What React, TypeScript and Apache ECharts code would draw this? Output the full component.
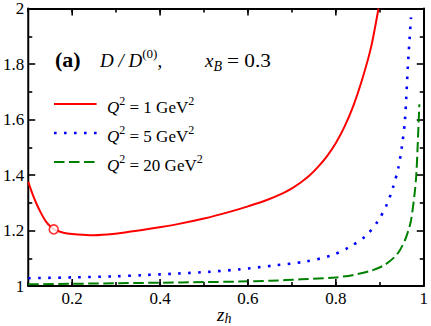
import React, { useEffect, useRef } from 'react';
import * as echarts from 'echarts';

const FONT = 'Liberation Serif, Times New Roman, serif';

// Q^2 = 1 GeV^2 (red solid)
const q1X = [0.1, 0.11, 0.12, 0.13, 0.14, 0.15, 0.16, 0.18, 0.2, 0.24, 0.28, 0.32, 0.38, 0.44, 0.5, 0.56, 0.6, 0.64, 0.68, 0.7, 0.72, 0.74, 0.76, 0.78, 0.8, 0.82, 0.84, 0.86, 0.88, 0.897];
const q1Y = [1.375, 1.33, 1.292, 1.26, 1.233, 1.215, 1.203, 1.192, 1.187, 1.183, 1.186, 1.193, 1.207, 1.223, 1.243, 1.268, 1.287, 1.308, 1.335, 1.352, 1.373, 1.398, 1.43, 1.468, 1.515, 1.575, 1.65, 1.745, 1.86, 2.0];
// Q^2 = 5 GeV^2 (blue dotted)
const q5X = [0.1, 0.2, 0.3, 0.36, 0.44, 0.51, 0.58, 0.66, 0.73, 0.79, 0.83, 0.867, 0.894, 0.915, 0.93, 0.942, 0.95, 0.957, 0.964, 0.971];
const q5Y = [1.028, 1.031, 1.035, 1.039, 1.045, 1.051, 1.06, 1.074, 1.088, 1.11, 1.14, 1.179, 1.23, 1.29, 1.355, 1.425, 1.5, 1.593, 1.796, 1.968];
// Q^2 = 20 GeV^2 (green dashed)
const q20X = [0.1, 0.2, 0.3, 0.4, 0.5, 0.58, 0.65, 0.72, 0.8, 0.84, 0.88, 0.91, 0.934, 0.946, 0.957, 0.965, 0.971, 0.979, 0.983, 0.986, 0.99];
const q20Y = [1.006, 1.008, 1.01, 1.012, 1.014, 1.016, 1.019, 1.024, 1.031, 1.04, 1.055, 1.075, 1.105, 1.13, 1.164, 1.2, 1.236, 1.33, 1.4, 1.5, 1.655];

// open circle marker on the Q^2 = 1 curve
const markerPoint = [0.158, 1.204];

// x positions of the long (major) ticks
const majorXTicks = [0.2, 0.4, 0.6, 0.8];

const legendQ2 = ['1', '5', '20'];
const seriesColors = ['#ff0000', '#0000ff', '#008000'];
const xBValue = '0.3';

const zip = (xs: number[], ys: number[]) => xs.map((x, i) => [x, ys[i]]);

const richBase = {
  i: { fontFamily: FONT, fontSize: 17, fontStyle: 'italic', color: '#000', lineHeight: 24 },
  n: { fontFamily: FONT, fontSize: 17, color: '#000', lineHeight: 24 },
  sup: { fontFamily: FONT, fontSize: 12, color: '#000', lineHeight: 12, verticalAlign: 'top' },
};

export default function App() {
  const ref = useRef<HTMLDivElement>(null);
  useEffect(() => {
    if (!ref.current) return;
    const chart = echarts.init(ref.current, null, { renderer: 'svg' });

    const axisLine = { show: true, onZero: false, lineStyle: { color: '#000', width: 2 } };
    const xLabelFmt = (v: number) => {
      const t = Math.round(v * 10);
      if (t % 2 !== 0) return '';
      if (t === 10) return '1';
      return (t / 10).toFixed(1);
    };
    const yLabelFmt = (v: number) =>
      Math.abs(v - Math.round(v)) < 1e-9 ? String(Math.round(v)) : v.toFixed(1);

    const legendY = [104, 133, 162];
    const legendDash: any[] = [null, [2.6, 7.4], [10.5, 4.5]];
    const legendWidth = [2, 2.6, 2];

    const graphic: any[] = [];
    legendQ2.forEach((q, k) => {
      graphic.push({
        type: 'line',
        shape: { x1: 54, y1: legendY[k], x2: 96.6, y2: legendY[k] },
        style: { stroke: seriesColors[k], lineWidth: legendWidth[k], lineDash: legendDash[k], lineCap: 'butt' },
      });
      graphic.push({
        type: 'text',
        x: 107,
        y: legendY[k] + 3,
        style: {
          text: `{i|Q}{sup|2}{n| = ${q} GeV}{sup|2}`,
          rich: richBase,
          fontFamily: FONT,
          align: 'left',
          verticalAlign: 'middle',
          textAlign: 'left',
          textVerticalAlign: 'middle',
        },
      });
    });

    const annRich = {
      b: { fontFamily: FONT, fontSize: 20, fontWeight: 'bold', color: '#000', lineHeight: 26 },
      i: { fontFamily: FONT, fontSize: 19, fontStyle: 'italic', color: '#000', lineHeight: 26 },
      n: { fontFamily: FONT, fontSize: 19, color: '#000', lineHeight: 26 },
      sup: { fontFamily: FONT, fontSize: 13, color: '#000', lineHeight: 12, verticalAlign: 'top' },
      sub: { fontFamily: FONT, fontSize: 14, fontStyle: 'italic', color: '#000', lineHeight: 12, verticalAlign: 'bottom' },
    };
    const annText = (x: number, text: string, scaleX = 1) => ({
      type: 'text',
      x,
      y: 60,
      scaleX,
      style: {
        text,
        rich: annRich,
        fontFamily: FONT,
        align: 'left',
        verticalAlign: 'middle',
        textAlign: 'left',
        textVerticalAlign: 'middle',
      },
    });
    graphic.push(annText(55, '{b|(a)}', 1.1));
    graphic.push(annText(100, '{i|D / D}{sup|(0)}{n|,}'));
    graphic.push(annText(205, '{i|x}{sub|B}'));
    graphic.push(annText(227, `{n|= ${xBValue}}`, 1.12));

    graphic.push({
      type: 'text',
      x: 217,
      y: 314,
      style: {
        text: '{i|z}{sub|h}',
        rich: {
          i: { fontFamily: FONT, fontSize: 19, fontStyle: 'italic', color: '#000', lineHeight: 22 },
          sub: { fontFamily: FONT, fontSize: 14, fontStyle: 'italic', color: '#000', lineHeight: 12, verticalAlign: 'bottom' },
        },
        fontFamily: FONT,
        align: 'left',
        verticalAlign: 'middle',
        textAlign: 'left',
        textVerticalAlign: 'middle',
      },
    });

    const tickStyle = { color: '#000', width: 1.6 };
    const option: any = {
      animation: false,
      backgroundColor: '#fff',
      textStyle: { fontFamily: FONT },
      grid: { left: 26, right: 5, top: 6, bottom: 40, containLabel: false },
      xAxis: [
        {
          type: 'value',
          min: 0.1,
          max: 1,
          interval: 0.1,
          position: 'bottom',
          axisLine,
          axisTick: { show: true, inside: true, length: 4, lineStyle: tickStyle },
          axisLabel: {
            show: true,
            formatter: xLabelFmt,
            fontFamily: FONT,
            fontSize: 17,
            color: '#000',
            margin: 4,
            showMinLabel: true,
            showMaxLabel: true,
          },
          splitLine: { show: false },
        },
        {
          type: 'value',
          min: 0.1,
          max: 1,
          interval: 0.1,
          position: 'top',
          axisLine,
          axisTick: { show: true, inside: true, length: 4, lineStyle: tickStyle },
          axisLabel: { show: false },
          splitLine: { show: false },
        },
      ],
      yAxis: [
        {
          type: 'value',
          min: 1,
          max: 2,
          interval: 0.2,
          position: 'left',
          axisLine,
          axisTick: { show: true, inside: true, length: 7, lineStyle: tickStyle },
          minorTick: { show: true, splitNumber: 2, length: 4, lineStyle: tickStyle },
          axisLabel: {
            show: true,
            formatter: yLabelFmt,
            fontFamily: FONT,
            fontSize: 17,
            color: '#000',
            margin: 4,
            showMinLabel: true,
            showMaxLabel: true,
          },
          splitLine: { show: false },
        },
        {
          type: 'value',
          min: 1,
          max: 2,
          interval: 0.2,
          position: 'right',
          axisLine,
          axisTick: { show: true, inside: true, length: 7, lineStyle: tickStyle },
          minorTick: { show: true, splitNumber: 2, length: 4, lineStyle: tickStyle },
          axisLabel: { show: false },
          splitLine: { show: false },
        },
      ],
      series: [
        {
          name: 'Q2=1',
          type: 'line',
          data: zip(q1X, q1Y),
          smooth: 0.3,
          showSymbol: false,
          symbol: 'none',
          lineStyle: { color: seriesColors[0], width: 2 },
          z: 3,
        },
        {
          name: 'Q2=5',
          type: 'line',
          data: zip(q5X, q5Y),
          smooth: 0.3,
          showSymbol: false,
          symbol: 'none',
          lineStyle: { color: seriesColors[1], width: 2.6, type: [2.6, 7.4], cap: 'butt' },
          z: 3,
        },
        {
          name: 'Q2=20',
          type: 'line',
          data: zip(q20X, q20Y),
          smooth: 0.3,
          showSymbol: false,
          symbol: 'none',
          lineStyle: { color: seriesColors[2], width: 2, type: [10.5, 4.5], cap: 'butt' },
          z: 3,
        },
        {
          name: 'marker',
          type: 'scatter',
          data: [markerPoint],
          symbol: 'circle',
          symbolSize: 9,
          itemStyle: { color: '#fff', borderColor: seriesColors[0], borderWidth: 1.6 },
          z: 5,
        },
        {
          name: 'majorTicks',
          type: 'custom',
          data: majorXTicks.map((x) => [x, 1]),
          encode: { x: 0, y: 1 },
          clip: false,
          silent: true,
          renderItem: (params: any, api: any) => {
            const x = api.value(0);
            const pb = api.coord([x, 1]);
            const pt = api.coord([x, 2]);
            const st = { stroke: '#000', lineWidth: 1.6 };
            return {
              type: 'group',
              children: [
                { type: 'line', shape: { x1: pb[0], y1: pb[1], x2: pb[0], y2: pb[1] - 7 }, style: st },
                { type: 'line', shape: { x1: pt[0], y1: pt[1], x2: pt[0], y2: pt[1] + 7 }, style: st },
              ],
            };
          },
          z: 6,
        },
      ],
      graphic,
    };

    chart.setOption(option);
    return () => chart.dispose();
  }, []);

  return <div ref={ref} style={{ width: 431, height: 326, position: 'absolute', left: 0, top: 0 }} />;
}
